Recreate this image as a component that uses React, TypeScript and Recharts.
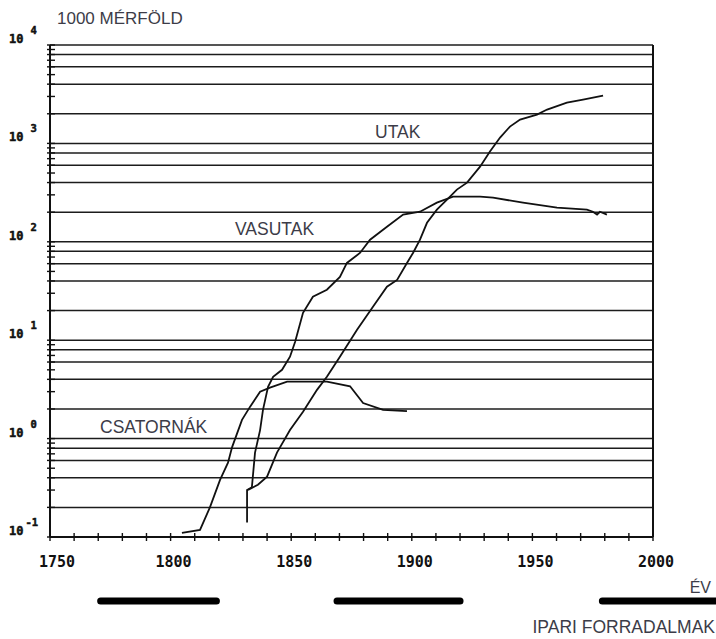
import React from "react";
import { LineChart, Line, XAxis, YAxis, ReferenceLine } from "recharts";

// ---- data ----
const canalYears = [1804.7, 1812.2, 1816.3, 1820.5, 1823.8, 1825.5, 1829.6, 1832.9, 1837.1, 1841.2, 1848.3, 1864.8, 1874.4, 1879.8, 1888.1, 1898];
const canalValues = [0.11, 0.118, 0.2, 0.38, 0.57, 0.82, 1.55, 2.1, 3.0, 3.3, 3.8, 3.8, 3.4, 2.3, 1.96, 1.9];

const railYears = [1831.7, 1831.7, 1833.7, 1835, 1837.1, 1838.3, 1840.4, 1842.5, 1846.2, 1849.5, 1851.6, 1854.9, 1859, 1864.8, 1870.2, 1873.1, 1878.5, 1882.7, 1889.7, 1896.4, 1903.4, 1910.4, 1917.1, 1928.3, 1933.7, 1946.1, 1960.2, 1972.6, 1975.1, 1976.8, 1978, 1980.9];
const railValues = [0.14, 0.3, 0.32, 0.72, 1.22, 1.96, 3.36, 4.25, 5.0, 6.8, 9.6, 19, 27.7, 32.6, 44, 61, 77, 105, 142, 189, 202, 250, 288, 288, 281, 250, 222, 212, 202, 189, 202, 189];

const roadYears = [1832.1, 1836.2, 1840, 1844.1, 1849.5, 1854.9, 1860.7, 1864.8, 1870.2, 1877.3, 1883.9, 1889.7, 1893.9, 1898, 1900.5, 1903.4, 1906.3, 1910.4, 1914.6, 1918.7, 1922.9, 1928.3, 1932.4, 1936.6, 1940.7, 1944.9, 1951.9, 1956.1, 1964.3, 1971, 1979.3];
const roadValues = [0.3, 0.34, 0.41, 0.72, 1.22, 1.87, 3.13, 4.25, 6.8, 12.8, 21.9, 35, 41, 61, 77, 105, 156, 212, 268, 339, 399, 580, 826, 1146, 1483, 1746, 1963, 2208, 2600, 2790, 3060];

// industrial revolutions (start, end years)
const revStarts = [1771, 1869, 1979];
const revEnds = [1819, 1920, 2030];

// axis ticks
const DECADES = [-1, 0, 1, 2, 3, 4];
const MINOR = [1, 2, 3, 4, 5, 6, 7, 8, 9];
const GRID_MULTS = [1, 2, 4, 6, 8];
const YEAR_LABELS = [1750, 1800, 1850, 1900, 1950, 2000];
const YEAR_STEP = 10;

const yTicks = DECADES.flatMap((d) => MINOR.map((m) => Number((m * Math.pow(10, d)).toPrecision(3)))).filter((v) => v <= 10000);
const gridValues = DECADES.flatMap((d) => GRID_MULTS.map((m) => Number((m * Math.pow(10, d)).toPrecision(3)))).filter((v) => v > 0.1 && v <= 10000);
const xTicks: number[] = [];
for (let y = YEAR_LABELS[0]; y <= YEAR_LABELS[YEAR_LABELS.length - 1]; y += YEAR_STEP) xTicks.push(y);

const toSeries = (xs: number[], vs: number[]) => xs.map((year, i) => ({ year, v: vs[i] }));
const canals = toSeries(canalYears, canalValues);
const rails = toSeries(railYears, railValues);
const roads = toSeries(roadYears, roadValues);

const REV_Y = 0.0224; // level of the revolution bars below the axis (data units of the log axis)
const INK = "#111";
const MONO = "'DejaVu Sans Mono', monospace";
const SANS = "'Liberation Sans', Arial, sans-serif";
const TXT = "#3c3c48";

const isPow10 = (v: number) => Math.abs(Math.log10(v) - Math.round(Math.log10(v))) < 1e-6;

const LeftTick = (props: any) => {
  const { x, y, payload } = props;
  const v = payload.value;
  const exp = Math.round(Math.log10(v));
  return (
    <g>
      <line x1={x - 3} x2={x + 5} y1={y} y2={y} stroke={INK} strokeWidth={1.4} />
      {isPow10(v) && (
        <text x={x - 41} y={y - 2} fontFamily={MONO} fontWeight="bold" fontSize={12} fill={INK} stroke={INK} strokeWidth={0.5}>
          10
          <tspan dx={exp < 0 ? 2 : 7} dy={-9} fontSize={10.5}>
            {exp}
          </tspan>
        </text>
      )}
    </g>
  );
};

const RightTick = (props: any) => {
  const { x, y } = props;
  return <line x1={x - 5} x2={x + 3} y1={y} y2={y} stroke={INK} strokeWidth={1.4} />;
};

const BottomTick = (props: any) => {
  const { x, y, payload } = props;
  const v = payload.value;
  return (
    <g>
      <line x1={x} x2={x} y1={y - 4} y2={y + 4} stroke={INK} strokeWidth={1.4} />
      {YEAR_LABELS.includes(v) && (
        <text x={x + (v === YEAR_LABELS[0] ? 7 : 3)} y={y + 30} textAnchor="middle" fontFamily={MONO} fontWeight="bold" fontSize={15} fill={INK}>
          {v}
        </text>
      )}
    </g>
  );
};

export default function App() {
  return (
    <div style={{ position: "absolute", left: 0, top: 0, width: 716, height: 639, background: "#fff" }}>
      <LineChart width={716} height={639} margin={{ top: 45, left: 0, right: 53, bottom: 72 }}>
        <XAxis
          dataKey="year"
          type="number"
          domain={[1750, 2000]}
          ticks={xTicks}
          interval={0}
          tickSize={0}
          tickMargin={0}
          height={30}
          tick={<BottomTick />}
          axisLine={{ stroke: INK, strokeWidth: 2 }}
          tickLine={false}
        />
        <YAxis
          scale="log"
          type="number"
          domain={[0.1, 10000]}
          ticks={yTicks}
          interval={0}
          tickSize={0}
          tickMargin={0}
          width={50}
          tick={<LeftTick />}
          axisLine={{ stroke: INK, strokeWidth: 2 }}
          tickLine={false}
        />
        <YAxis
          yAxisId="r"
          orientation="right"
          scale="log"
          type="number"
          domain={[0.1, 10000]}
          ticks={yTicks}
          interval={0}
          tickSize={0}
          tickMargin={0}
          width={10}
          tick={<RightTick />}
          axisLine={{ stroke: INK, strokeWidth: 2 }}
          tickLine={false}
        />
        {gridValues.map((v) => (
          <ReferenceLine key={"g" + v} y={v} stroke="#1c1c1c" strokeWidth={1.5} />
        ))}
        {revStarts.map((s, i) => (
          <ReferenceLine
            key={"rev" + i}
            segment={[
              { x: s, y: REV_Y },
              { x: revEnds[i], y: REV_Y },
            ]}
            ifOverflow="visible"
            stroke="#000"
            strokeWidth={7}
            strokeLinecap="round"
          />
        ))}
        <Line data={canals} dataKey="v" type="linear" stroke={INK} strokeWidth={1.8} dot={false} isAnimationActive={false} />
        <Line data={rails} dataKey="v" type="linear" stroke={INK} strokeWidth={1.8} dot={false} isAnimationActive={false} />
        <Line data={roads} dataKey="v" type="linear" stroke={INK} strokeWidth={1.8} dot={false} isAnimationActive={false} />
      </LineChart>
      <svg width={716} height={639} style={{ position: "absolute", left: 0, top: 0, pointerEvents: "none" }}>
        <text x={57} y={24} fontFamily={SANS} fontSize={17} fill={TXT}>1000 MÉRFÖLD</text>
        <text x={375} y={138} fontFamily={SANS} fontSize={17.5} fill={TXT}>UTAK</text>
        <text x={235} y={235} fontFamily={SANS} fontSize={17.5} fill={TXT}>VASUTAK</text>
        <text x={100} y={433} fontFamily={SANS} fontSize={17.5} fill={TXT}>CSATORNÁK</text>
        <text x={711} y={593} textAnchor="end" fontFamily={SANS} fontSize={16} fill={TXT}>ÉV</text>
        <text x={715} y={633} textAnchor="end" fontFamily={SANS} fontSize={17.5} fill={TXT}>IPARI FORRADALMAK</text>
      </svg>
    </div>
  );
}
